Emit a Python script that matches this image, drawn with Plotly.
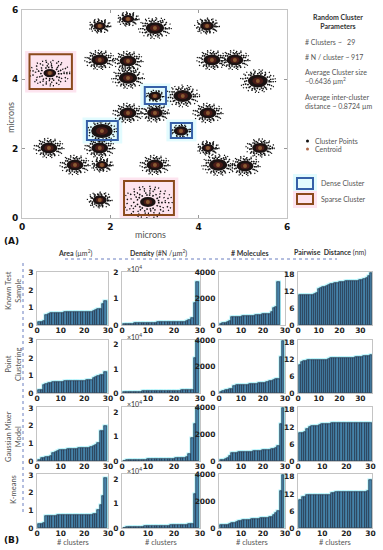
import plotly.graph_objects as go

W, H = 383, 550
FONT = "Lato"

# ---------------- Panel A data (microns) ----------------
cluster_x = [1.76, 2.40, 3.01, 4.19, 0.63, 1.76, 2.40, 2.40, 4.30, 4.82, 5.34, 3.01, 3.64, 2.40, 3.01,
             4.21, 1.81, 3.60, 0.61, 1.76, 4.21, 5.39, 1.20, 1.81, 3.01, 4.44, 5.05, 1.76, 2.85]
cluster_y = [5.54, 5.74, 5.48, 5.54, 4.18, 4.56, 4.53, 4.04, 4.56, 4.56, 3.95, 3.52, 3.52, 3.03, 3.03,
             3.03, 2.51, 2.51, 2.02, 2.02, 2.02, 2.02, 1.53, 1.53, 1.53, 1.53, 1.50, 0.52, 0.46]
cluster_r = [0.25, 0.25, 0.37, 0.28, 0.45, 0.34, 0.34, 0.37, 0.34, 0.34, 0.40, 0.20, 0.38, 0.34, 0.32,
             0.34, 0.33, 0.22, 0.34, 0.34, 0.25, 0.32, 0.34, 0.25, 0.34, 0.37, 0.34, 0.28, 0.55]
cluster_kind = ['n', 'n', 'n', 'n', 's', 'n', 'n', 'n', 'n', 'n', 'n', 'd', 'n', 'n', 'n',
                'n', 'd', 'd', 'n', 'n', 'n', 'n', 'n', 'n', 'n', 'n', 'n', 'n', 's']

box_kind = ['sparse', 'dense', 'dense', 'dense', 'sparse']
box_x0 = [0.17, 2.78, 1.47, 3.37, 2.31]
box_x1 = [1.13, 3.26, 2.17, 3.85, 3.44]
box_y0 = [3.72, 3.29, 2.25, 2.31, 0.09]
box_y1 = [4.72, 3.78, 2.80, 2.74, 1.07]

# ---------------- Panel B data ----------------
row_names = ["Known Test<br>Sample", "Point<br>Clustering", "Gaussian Mixer<br>Model", "K-means"]

area_known = [0.18, 0.2, 0.25, 0.55, 0.62, 0.67, 0.69, 0.70, 0.70, 0.71, 0.71, 0.72, 0.72, 0.72, 0.73,
              0.73, 0.74, 0.74, 0.75, 0.75, 0.75, 0.76, 0.77, 0.78, 0.88, 0.90, 0.93, 1.2, 1.4]
area_point = [0.2, 0.2, 0.48, 0.5, 0.55, 0.6, 0.63, 0.64, 0.65, 0.66, 0.66, 0.67, 0.67, 0.68, 0.68,
              0.69, 0.69, 0.7, 0.7, 0.71, 0.72, 0.73, 0.75, 0.85, 0.92, 0.97, 1.02, 1.05, 1.2]
area_gmm = [0.08, 0.15, 0.18, 0.2, 0.25, 0.3, 0.45, 0.5, 0.55, 0.6, 0.62, 0.64, 0.65, 0.65, 0.66,
            0.66, 0.67, 0.72, 0.74, 0.75, 0.75, 0.76, 0.77, 0.82, 0.92, 1.0, 1.7, 1.72, 2.0]
area_kmeans = [0.2, 0.22, 0.3, 0.66, 0.68, 0.69, 0.7, 0.7, 0.71, 0.71, 0.72, 0.72, 0.72, 0.73, 0.73,
               0.74, 0.74, 0.74, 0.75, 0.75, 0.75, 0.76, 0.76, 0.77, 0.78, 1.0, 1.3, 1.8, 2.85]

dens_known = [200, 300, 400, 500, 600, 700, 750, 800, 800, 850, 850, 900, 900, 950, 950,
              1000, 1000, 1050, 1100, 1100, 1150, 1200, 1250, 1300, 1500, 2000, 2800, 8200, 16200]
dens_point = [250, 300, 350, 400, 450, 500, 600, 800, 850, 850, 870, 880, 900, 900, 920,
              930, 950, 960, 980, 1000, 1000, 1020, 1050, 1080, 1100, 1150, 1300, 14500, 22000]
dens_gmm = [200, 250, 300, 350, 400, 450, 500, 550, 600, 650, 700, 700, 750, 750, 800,
            800, 850, 900, 950, 1000, 1050, 1100, 1150, 1200, 1500, 3000, 9500, 15000, 22000]
dens_kmeans = [200, 300, 350, 400, 450, 500, 550, 600, 650, 700, 750, 800, 820, 850, 880,
               900, 950, 1000, 1050, 1100, 1150, 1200, 1250, 1300, 1400, 1500, 1700, 13800, 21500]

mol_known = [50, 120, 180, 250, 320, 600, 620, 620, 630, 640, 650, 650, 660, 680, 700,
             720, 760, 780, 800, 820, 840, 850, 870, 1000, 1300, 1400, 3300]
mol_point = [100, 150, 200, 250, 300, 320, 550, 600, 610, 620, 620, 630, 640, 650, 660,
             700, 720, 740, 760, 780, 800, 850, 900, 950, 1000, 1050, 1100, 2750, 4000]
mol_gmm = [80, 100, 150, 250, 400, 600, 620, 630, 640, 650, 650, 660, 670, 680, 700,
           720, 740, 760, 780, 800, 820, 840, 860, 880, 900, 1000, 1100, 2750, 4000]
mol_kmeans = [200, 200, 220, 250, 300, 350, 400, 450, 520, 560, 600, 610, 620, 630, 640,
              650, 660, 700, 720, 740, 760, 780, 800, 850, 950, 1100, 1250, 2800, 4000]

pair_known = [10.8, 10.8, 10.8, 10.8, 10.8, 10.9, 10.9, 11.0, 11.5, 12.8, 13.2, 13.5, 13.8, 14.1, 14.4,
              14.6, 14.8, 15.0, 15.2, 15.3, 15.4, 15.5, 15.6, 15.7, 15.7, 15.8, 15.8, 15.9, 15.9, 16.0,
              16.3, 16.6, 17.0, 17.6, 18.5]
pair_point = [10.0, 11.0, 11.3, 11.6, 11.7, 11.7, 11.7, 11.7, 11.7, 11.7, 11.7, 11.7, 11.7, 11.7, 12.2,
              12.4, 12.5, 12.5, 12.5, 12.5, 12.5, 12.5, 12.5, 12.5, 12.5, 12.6, 12.6, 12.8, 13.0, 13.0,
              13.0, 13.1, 13.2, 13.3, 13.5]
pair_gmm = [9.8, 9.8, 10.2, 11.2, 12.0, 12.2, 12.3, 12.3, 12.8, 12.9, 13.0, 13.1, 13.1, 13.2, 13.2,
            13.2, 13.3, 13.3, 13.3, 13.3, 13.4, 13.4, 13.4, 13.4, 13.4, 13.4, 13.5, 13.5, 13.5, 13.5]
pair_kmeans = [10.0, 10.8, 11.0, 11.6, 11.7, 11.7, 11.7, 11.7, 11.7, 11.7, 11.7, 11.7, 11.7, 12.2, 12.4,
               12.5, 12.5, 12.5, 12.5, 12.6, 12.6, 12.6, 12.6, 12.6, 12.6, 12.7, 12.7, 12.8, 12.9, 17.0]

grid_values = [
    [area_known, dens_known, mol_known, pair_known],
    [area_point, dens_point, mol_point, pair_point],
    [area_gmm, dens_gmm, mol_gmm, pair_gmm],
    [area_kmeans, dens_kmeans, mol_kmeans, pair_kmeans],
]

area_ticks = [0, 1, 2, 3]
dens_ticks = [0, 10000, 20000]
dens_ticktext = ["0", "1", "2"]
mol_ticks = [0, 2000, 4000]
pair_ticks = [0, 6, 12, 18]
cluster_ticks = [0, 10, 20, 30]

# ---------------- Figure ----------------
fig = go.Figure()
shapes = []
ann = []

def px_dom_x(a, b):
    return [a / W, b / W]

def px_dom_y(top, bottom):
    return [1 - bottom / H, 1 - top / H]

TXT = '#555555'
layout = dict(
    width=W, height=H, margin=dict(l=0, r=0, t=0, b=0, autoexpand=False),
    paper_bgcolor='white', plot_bgcolor='white', showlegend=False,
    barmode='overlay', bargap=0, font=dict(family=FONT, color='#222'),
)

frame = dict(showline=True, mirror=True, linecolor='#c4c4c4', linewidth=1, showgrid=False,
             zeroline=False, ticks='', automargin=False)

layout['xaxis'] = dict(frame, domain=px_dom_x(22, 287), range=[0, 6], tickvals=[0, 2, 4, 6],
                       ticks='inside', ticklen=3, tickcolor='#999', mirror='ticks',
                       tickfont=dict(size=9, color='#111', family="DejaVu Sans", weight='bold'))
layout['yaxis'] = dict(frame, domain=px_dom_y(10, 218), range=[0, 6], tickvals=[0, 2, 4, 6],
                       ticks='inside', ticklen=3, tickcolor='#999', mirror='ticks', ticklabelstandoff=1,
                       tickfont=dict(size=9, color='#111', family="DejaVu Sans", weight='bold'))

# highlight fills behind the boxes
for k, x0, x1, y0, y1 in zip(box_kind, box_x0, box_x1, box_y0, box_y1):
    fillc = '#fde4ef' if k == 'sparse' else '#e2fbfe'
    pad = 0.1
    shapes.append(dict(type='rect', xref='x', yref='y', x0=x0 - pad, x1=x1 + pad, y0=y0 - pad, y1=y1 + pad,
                       fillcolor=fillc, line=dict(width=0), layer='below'))

# clusters: irregular dotted rings imitate the localisation cloud
RING_DASH = ['1.2px,4.3px,1.2px,2.1px,1.2px,6px', '1.4px,2.9px,1.4px,4.7px',
             '1.5px,1.9px,1.5px,3.3px,1.5px,1.2px', '1.6px,1.4px,1.6px,2.6px']
for cx, cy, r, k in zip(cluster_x, cluster_y, cluster_r, cluster_kind):
    if k == 's':
        rings = [(1.0, 1.3, 0), (0.86, 1.4, 1), (0.72, 1.5, 0), (0.58, 1.6, 1), (0.45, 1.6, 2)]
        core = 0.32
    elif k == 'd':
        rings = [(1.0, 1.3, 0), (0.86, 1.5, 2)]
        core = 0.74
    else:
        rings = [(1.0, 1.2, 0), (0.87, 1.4, 1), (0.74, 1.6, 2), (0.64, 1.6, 3)]
        core = 0.56
    for f, lw, di in rings:
        shapes.append(dict(type='circle', xref='x', yref='y', x0=cx - r * f, x1=cx + r * f,
                           y0=cy - r * f * 0.82, y1=cy + r * f * 0.82,
                           line=dict(color='#111', width=lw, dash=RING_DASH[di]), layer='below'))
    shapes.append(dict(type='circle', xref='x', yref='y', x0=cx - r * core, x1=cx + r * core,
                       y0=cy - r * core * 0.82, y1=cy + r * core * 0.82,
                       fillcolor='#1a1212', line=dict(width=0), layer='below'))
    shapes.append(dict(type='circle', xref='x', yref='y', x0=cx - r * core * 0.55, x1=cx + r * core * 0.55,
                       y0=cy - r * core * 0.45, y1=cy + r * core * 0.45,
                       fillcolor='#4a1c18', line=dict(width=0), layer='below'))

for k, x0, x1, y0, y1 in zip(box_kind, box_x0, box_x1, box_y0, box_y1):
    linec = '#8b4a1c' if k == 'sparse' else '#3560a8'
    shapes.append(dict(type='rect', xref='x', yref='y', x0=x0, x1=x1, y0=y0, y1=y1,
                       line=dict(color=linec, width=2), layer='above'))

fig.add_trace(go.Scatter(x=cluster_x, y=cluster_y, mode='markers', xaxis='x', yaxis='y',
                         marker=dict(size=4, color='#8a5a32', line=dict(width=0)), hoverinfo='skip'))

# panel A labels
ann.append(dict(text='microns', x=150, y=234, showarrow=False, font=dict(size=9, color=TXT)))
ann.append(dict(text='microns', x=10, y=118, textangle=-90, showarrow=False, font=dict(size=9, color=TXT)))
ann.append(dict(text='<b>(A)</b>', x=12, y=241, showarrow=False, font=dict(size=9, color='#111', family="DejaVu Sans")))

ann.append(dict(text='<b>Random Cluster<br>Parameters</b>', x=338, y=21, showarrow=False,
                font=dict(size=7, color='#333')))
side = [("# Clusters ~   29", 42), ("# N / cluster ~ 917", 57),
        ("Average Cluster size<br>~0.6436 µm<sup>2</sup>", 76),
        ("Average inter-cluster<br>distance ~ 0.8724 µm", 102)]
for t, y in side:
    ann.append(dict(text=t, x=303, y=y, xanchor='left', align='left', showarrow=False,
                    font=dict(size=7, color=TXT)))
ann.append(dict(text='Cluster Points', x=313, y=141, xanchor='left', showarrow=False, font=dict(size=7, color=TXT)))
ann.append(dict(text='Centroid', x=313, y=149, xanchor='left', showarrow=False, font=dict(size=7, color=TXT)))
ann.append(dict(text='Dense Cluster', x=319, y=183, xanchor='left', showarrow=False, font=dict(size=7, color=TXT)))
ann.append(dict(text='Sparse Cluster', x=319, y=199, xanchor='left', showarrow=False, font=dict(size=7, color=TXT)))

def pshape(x0, y0, x1, y1, kind='rect', **kw):
    d = dict(type=kind, xref='paper', yref='paper', x0=x0 / W, x1=x1 / W, y0=1 - y1 / H, y1=1 - y0 / H)
    d.update(kw)
    return d

shapes.append(pshape(306, 139.5, 309, 142.5, kind='circle', fillcolor='#111', line=dict(width=0)))
shapes.append(pshape(306, 147.5, 309, 150.5, kind='circle', fillcolor='#b06a4a', line=dict(width=0)))
shapes.append(pshape(293, 174, 317, 192, fillcolor='#e2fbfe', line=dict(width=0), layer='below'))
shapes.append(pshape(293, 191, 317, 208, fillcolor='#fde4ef', line=dict(width=0), layer='below'))
shapes.append(pshape(297, 178, 313, 189, line=dict(color='#3560a8', width=2)))
shapes.append(pshape(297, 194, 313, 204, line=dict(color='#8b4a1c', width=2)))

# ---------------- Panel B ----------------
col_px = [(37, 108), (122, 200), (219, 285), (298, 372)]
row_px = [(272, 325), (340, 393), (407, 461), (474, 528)]

BAR = '#4583aa'
GLOW = '#a9f2fb'
EDGE = '#1b2236'
tickf = dict(size=7.5, color='#222', family="DejaVu Sans", weight='bold')

ax = 2
for ri, (top, bot) in enumerate(row_px):
    for ci, (left, right) in enumerate(col_px):
        vals = grid_values[ri][ci]
        n = len(vals)
        xs = list(range(1, n + 1))
        xn, yn = f'x{ax}', f'y{ax}'
        if ci == 0:
            yr, yt, ytt = [0, 3.05], area_ticks, None
        elif ci == 1:
            yr, yt, ytt = ([0, 20000] if ri == 0 else [0, 22000]), dens_ticks, dens_ticktext
        elif ci == 2:
            yr, yt, ytt = [0, 4050], mol_ticks, None
        else:
            yr, yt, ytt = [0, 19], pair_ticks, None
        xr = [0, max(30, n + 0.6)]
        xt = [t for t in cluster_ticks if t <= xr[1]]
        layout[f'xaxis{ax}'] = dict(frame, domain=px_dom_x(left, right), range=xr, tickvals=xt,
                                    anchor=yn, tickfont=tickf, ticklabelstandoff=-2)
        yd = dict(frame, domain=px_dom_y(top, bot), range=yr, tickvals=yt, anchor=xn,
                  tickfont=tickf, ticklabelstandoff=1)
        if ytt:
            yd['ticktext'] = ytt
        layout[f'yaxis{ax}'] = yd
        fig.add_trace(go.Bar(x=xs, y=vals, xaxis=xn, yaxis=yn, width=1,
                             marker=dict(color=GLOW, line=dict(color=GLOW, width=2.5)), hoverinfo='skip'))
        fig.add_trace(go.Bar(x=xs, y=vals, xaxis=xn, yaxis=yn, width=1,
                             marker=dict(color=BAR, line=dict(color=EDGE, width=0.6)), hoverinfo='skip'))
        if ci == 1:
            ann.append(dict(text='×10<sup>4</sup>', x=left + 3, y=top - 4, xanchor='left', showarrow=False,
                            font=dict(size=7, color='#333')))
        ax += 1

headers = [("<b>Area</b> (µm<sup>2</sup>)", 75), ("<b>Density</b> (#N /µm<sup>2</sup>)", 158),
           ("<b># Molecules</b>", 250), ("<b>Pairwise  Distance</b> (nm)", 330)]
for t, x in headers:
    ann.append(dict(text=t, x=x, y=253, showarrow=False, font=dict(size=7, color='#333')))

row_cy = [291, 364, 437, 490]
for t, y in zip(row_names, row_cy):
    ann.append(dict(text=t, x=13, y=y, textangle=-90, showarrow=False, font=dict(size=7.5, color=TXT)))

for (left, right) in col_px:
    ann.append(dict(text='# clusters', x=(left + right) / 2, y=542, showarrow=False, font=dict(size=7.5, color=TXT)))
ann.append(dict(text='<b>(B)</b>', x=12, y=540, showarrow=False, font=dict(size=9, color='#111', family="DejaVu Sans")))

shapes.append(dict(type='line', xref='paper', yref='paper', x0=65 / W, x1=337 / W, y0=1 - 259 / H, y1=1 - 259 / H,
                   line=dict(color='#6a7fc0', width=1, dash='dot')))
shapes.append(dict(type='line', xref='paper', yref='paper', x0=23 / W, x1=23 / W, y0=1 - 263 / H, y1=1 - 512 / H,
                   line=dict(color='#6a7fc0', width=1, dash='dot')))

for a in ann:
    a['xref'] = 'paper'
    a['yref'] = 'paper'
    a['x'] = a['x'] / W
    a['y'] = 1 - a['y'] / H
    a.setdefault('xanchor', 'center')
    a['yanchor'] = 'middle'

layout['shapes'] = shapes
layout['annotations'] = ann
fig.update_layout(**layout)
fig.write_html("out.html", config={'displayModeBar': False},
               post_script="document.body.style.margin='0px';document.body.style.overflow='hidden';")
